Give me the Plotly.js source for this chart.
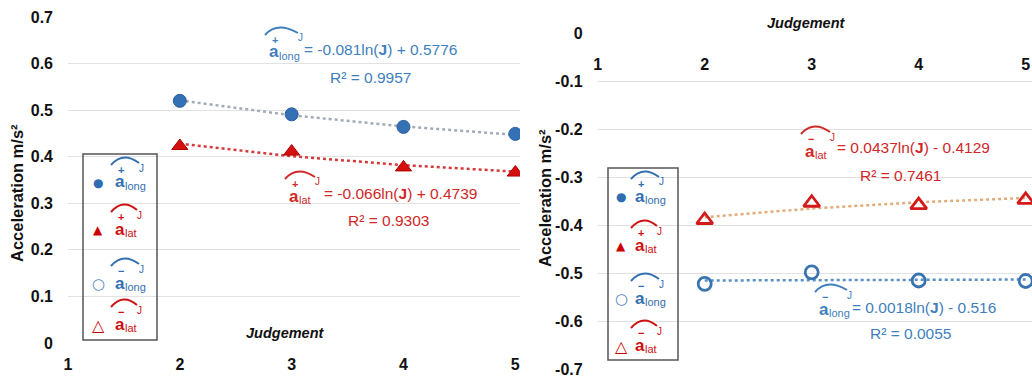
<!DOCTYPE html>
<html>
<head>
<meta charset="utf-8">
<script src="https://cdn.plot.ly/plotly-3.0.1.min.js"></script>
<style>html,body{margin:0;padding:0;background:#fff;}#chart{width:1032px;height:380px;}</style>
</head>
<body>
<div id="chart"></div>
<script>
// ---------- data ----------
const judgement = [2, 3, 4, 5];
const xTickVals = [1, 2, 3, 4, 5];
const xTickText = ['1', '2', '3', '4', '5'];
const yPosTickVals = [0, 0.1, 0.2, 0.3, 0.4, 0.5, 0.6, 0.7];
const yPosTickText = ['0', '0.1', '0.2', '0.3', '0.4', '0.5', '0.6', '0.7'];
const yNegTickVals = [0, -0.1, -0.2, -0.3, -0.4, -0.5, -0.6, -0.7];
const yNegTickText = ['0', '-0.1', '-0.2', '-0.3', '-0.4', '-0.5', '-0.6', '-0.7'];

const aLongPos = [0.520, 0.491, 0.464, 0.449];
const aLatPos = [0.423, 0.411, 0.377, 0.366];
const aLongNeg = [-0.522, -0.498, -0.515, -0.516];
const aLatNeg = [-0.389, -0.353, -0.358, -0.347];

const aLongPosTrend = [0.521, 0.489, 0.465, 0.447];
const aLatPosTrend = [0.428, 0.401, 0.382, 0.368];
const aLongNegTrend = [-0.515, -0.514, -0.514, -0.513];
const aLatNegTrend = [-0.383, -0.365, -0.352, -0.343];

const eqLongPos = '= -0.081ln(<b>J</b>) + 0.5776';
const r2LongPos = 'R² = 0.9957';
const eqLatPos = '= -0.066ln(<b>J</b>) + 0.4739';
const r2LatPos = 'R² = 0.9303';
const eqLatNeg = '= 0.0437ln(<b>J</b>) - 0.4129';
const r2LatNeg = 'R² = 0.7461';
const eqLongNeg = '= 0.0018ln(<b>J</b>) - 0.516';
const r2LongNeg = 'R² = 0.0055';

// ---------- styling ----------
const W = 1032, H = 380;
const FONT = 'Liberation Sans, Arial, sans-serif';
const BLUE = '#336fb0', BLUE_TXT = '#3f7fbd', RED = '#cc1111', RED_TXT = '#d02828';
const px = x => x / W;
const py = y => 1 - y / H;

const traces = [
  {x: judgement, y: aLongPosTrend, xaxis: 'x', yaxis: 'y', mode: 'lines', line: {color: '#a3abb6', width: 2.5, dash: 'dot'}, hoverinfo: 'skip'},
  {x: judgement, y: aLatPosTrend, xaxis: 'x', yaxis: 'y', mode: 'lines', line: {color: '#d43a3a', width: 2.5, dash: 'dot'}, hoverinfo: 'skip'},
  {x: judgement, y: aLongPos, xaxis: 'x', yaxis: 'y', mode: 'markers', name: 'a long +',
   marker: {symbol: 'circle', size: 13, color: '#3470b4', line: {color: '#2a5e9e', width: 1}}},
  {x: judgement, y: aLatPos, xaxis: 'x', yaxis: 'y', mode: 'markers', name: 'a lat +',
   marker: {symbol: 'triangle-up', size: 14, color: '#d40f0f', line: {color: '#b00000', width: 1}}},
  {x: judgement, y: aLatNegTrend, xaxis: 'x2', yaxis: 'y2', mode: 'lines', line: {color: '#e3aa7a', width: 2.5, dash: 'dot'}, hoverinfo: 'skip'},
  {x: judgement, y: aLongNegTrend, xaxis: 'x2', yaxis: 'y2', mode: 'lines', line: {color: '#5b8fc8', width: 2.5, dash: 'dot'}, hoverinfo: 'skip'},
  {x: judgement, y: aLongNeg, xaxis: 'x2', yaxis: 'y2', mode: 'markers', name: 'a long -',
   marker: {symbol: 'circle-open', size: 13, color: '#3a74b0', line: {width: 2.8}}},
  {x: judgement, y: aLatNeg, xaxis: 'x2', yaxis: 'y2', mode: 'markers', name: 'a lat -',
   marker: {symbol: 'triangle-up-open', size: 14, color: '#d41a1a', line: {width: 2.8}}}
];

const tickFont = {family: FONT, size: 16, color: '#111', weight: 'bold'};
const annotations = [];
const shapes = [];

function txt(x, y, text, opts) {
  annotations.push(Object.assign({
    xref: 'paper', yref: 'paper', x: px(x), y: py(y), text: text, showarrow: false,
    xanchor: 'center', yanchor: 'middle', font: {family: FONT, size: 15.5, color: '#000'}
  }, opts || {}));
}
function P(x, y) { return px(x).toFixed(5) + ',' + py(y).toFixed(5); }

// hat symbol: a with subscript, sign, arc and J
function sym(ax, ay, color, sign, sub, w) {
  txt(ax, ay, '<b>a</b>', {xanchor: 'left', font: {family: FONT, size: 17, color: color}});
  txt(ax + 9.5, ay + 4, sub, {xanchor: 'left', font: {family: FONT, size: 11, color: color}});
  txt(ax + 8, ay - 12, sign, {font: {family: FONT, size: 11, color: color, weight: 'bold'}});
  txt(ax + w + 2, ay - 14, 'J', {font: {family: FONT, size: 10, color: color}});
  shapes.push({type: 'path', xref: 'paper', yref: 'paper',
    path: 'M' + P(ax - 2, ay - 17) + ' Q' + P(ax + 10, ay - 31) + ' ' + P(ax + w, ay - 19),
    line: {color: color, width: 2}});
}

// axis titles
txt(17, 193, 'Acceleration m/s²', {textangle: -90, font: {family: FONT, size: 16.5, color: '#111', weight: 'bold'}});
txt(545, 198, 'Acceleration m/s²', {textangle: -90, font: {family: FONT, size: 16.5, color: '#111', weight: 'bold'}});
txt(285, 333, '<i>Judgement</i>', {font: {family: FONT, size: 14.5, color: '#111', weight: 'bold'}});
txt(806, 23, '<i>Judgement</i>', {font: {family: FONT, size: 14.5, color: '#111', weight: 'bold'}});

// equations
const EQ = 15.5;
sym(267, 52, BLUE_TXT, '+', 'long', 31);
txt(302, 50, eqLongPos, {xanchor: 'left', font: {family: FONT, size: EQ, color: BLUE_TXT}});
txt(370, 78, r2LongPos, {font: {family: FONT, size: 15.5, color: BLUE_TXT}});

sym(287, 196, RED_TXT, '+', 'lat', 28);
txt(322, 193, eqLatPos, {xanchor: 'left', font: {family: FONT, size: EQ, color: RED_TXT}});
txt(388, 220, r2LatPos, {font: {family: FONT, size: 15.5, color: RED_TXT}});

sym(803, 151, RED_TXT, '−', 'lat', 27);
txt(835, 147, eqLatNeg, {xanchor: 'left', font: {family: FONT, size: EQ, color: RED_TXT}});
txt(900, 175, r2LatNeg, {font: {family: FONT, size: 15.5, color: RED_TXT}});

sym(817, 309, BLUE_TXT, '−', 'long', 30);
txt(850, 307, eqLongNeg, {xanchor: 'left', font: {family: FONT, size: EQ, color: BLUE_TXT}});
txt(910, 333, r2LongNeg, {font: {family: FONT, size: 15.5, color: BLUE_TXT}});

// legends
function legend(x0, y0, x1, y1, mx, ax, ys) {
  shapes.push({type: 'rect', xref: 'paper', yref: 'paper', x0: px(x0), x1: px(x1), y0: py(y1), y1: py(y0),
    line: {color: '#555', width: 1.5}, fillcolor: 'rgba(255,255,255,0)'});
  const glyphs = [['●', '#2f6db3', 12], ['▲', '#cc0000', 12], ['○', '#4f86c0', 15], ['△', '#cc0000', 16]];
  const cols = [BLUE, RED, BLUE, RED];
  const signs = ['+', '+', '−', '−'];
  const subs = ['long', 'lat', 'long', 'lat'];
  for (let i = 0; i < 4; i++) {
    txt(mx, ys[i] - 1, glyphs[i][0], {font: {family: 'DejaVu Sans', size: glyphs[i][2], color: glyphs[i][1]}});
    sym(ax, ys[i] - 2, cols[i], signs[i], subs[i], subs[i] === 'long' ? 26 : 24);
  }
}
legend(83, 154, 157, 340, 98, 113, [184, 231, 285, 326]);
legend(608, 168, 678, 360, 621, 633, [198, 247, 300, 347]);

const layout = {
  width: W, height: H, margin: {l: 0, r: 0, t: 0, b: 0},
  paper_bgcolor: '#fff', plot_bgcolor: '#fff', showlegend: false,
  xaxis: {domain: [px(68), px(520)], range: [1, 5.042], tickvals: xTickVals, ticktext: xTickText,
    showgrid: false, zeroline: false, showline: false, ticks: '', tickfont: tickFont, anchor: 'y', ticklabelstandoff: 10},
  yaxis: {domain: [py(343), py(17)], range: [0, 0.7], tickvals: yPosTickVals, ticktext: yPosTickText,
    showgrid: true, gridcolor: '#e2e2e2', gridwidth: 1, zeroline: false, showline: false, ticks: '',
    tickfont: tickFont, anchor: 'x', ticklabelstandoff: 14},
  xaxis2: {domain: [px(597.7), 1], range: [1, 5.059], tickvals: xTickVals, ticktext: xTickText,
    showgrid: false, zeroline: false, showline: false, ticks: '', tickfont: tickFont,
    anchor: 'free', position: py(33.3), side: 'bottom', ticklabelstandoff: 20},
  yaxis2: {domain: [py(369.3), py(33.3)], range: [-0.7, 0], tickvals: yNegTickVals, ticktext: yNegTickText,
    showgrid: true, gridcolor: '#e2e2e2', gridwidth: 1, zeroline: false, showline: false, ticks: '',
    tickfont: tickFont, anchor: 'x2', ticklabelstandoff: 14},
  annotations: annotations,
  shapes: shapes
};

Plotly.newPlot('chart', traces, layout, {displayModeBar: false, staticPlot: true});
</script>
</body>
</html>
